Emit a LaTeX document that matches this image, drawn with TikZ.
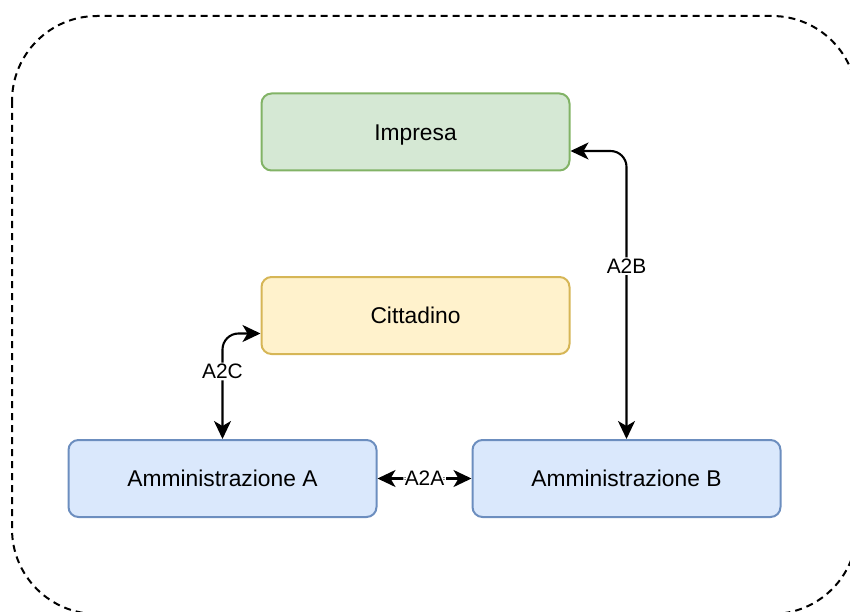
\documentclass[tikz,border=0pt]{standalone}
\usepackage{fontspec}
\setmainfont{Liberation Sans}
\usetikzlibrary{arrows.meta}
\definecolor{gfill}{HTML}{D5E8D4}\definecolor{gline}{HTML}{82B366}
\definecolor{yfill}{HTML}{FFF2CC}\definecolor{yline}{HTML}{D6B656}
\definecolor{bfill}{HTML}{DAE8FC}\definecolor{bline}{HTML}{6C8EBF}
\tikzset{
  box/.style={rectangle, rounded corners=10pt, line width=2pt, minimum width=308pt, minimum height=77pt, inner sep=0pt, text height=16.3pt, text depth=-1.5pt, font=\fontsize{22.8}{27}\selectfont},
  greenbox/.style={box, fill=gfill, draw=gline},
  yellowbox/.style={box, fill=yfill, draw=yline},
  bluebox/.style={box, fill=bfill, draw=bline},
  arr/.style={line width=2.1pt, rounded corners=16pt, {Stealth[length=18pt,width=17pt,inset=5pt]}-{Stealth[length=18pt,width=17pt,inset=5pt]}},
  lbl/.style={fill=white, inner sep=1.5pt, font=\fontsize{20.9}{25}\selectfont},
  frame/.style={dashed, dash pattern=on 7pt off 5pt, line width=2pt, rounded corners=85pt}
}
\begin{document}
\begin{tikzpicture}[x=1pt,y=-1pt]
\useasboundingbox (0,0) rectangle (850,612);
\begin{scope}
  \clip (0,0) rectangle (850,612);
  \draw[frame] (12,16) rectangle (857,614);
\end{scope}
\node[greenbox]  (imp) at (415.5,132) {Impresa};
\node[yellowbox] (cit) at (415.5,315.5) {Cittadino};
\node[bluebox]   (ammA) at (222.5,478.5) {Amministrazione A};
\node[bluebox]   (ammB) at (626.5,478.5) {Amministrazione B};
\draw[arr] (ammA.north) |- node[lbl, pos=0.32] {A2C} ([yshift=-18pt]cit.west);
\draw[arr] (ammB.north) |- node[lbl, pos=0.30] {A2B} ([yshift=-19pt]imp.east);
\draw[arr] (ammA.east) -- node[lbl] {A2A} (ammB.west);
\end{tikzpicture}
\end{document}
